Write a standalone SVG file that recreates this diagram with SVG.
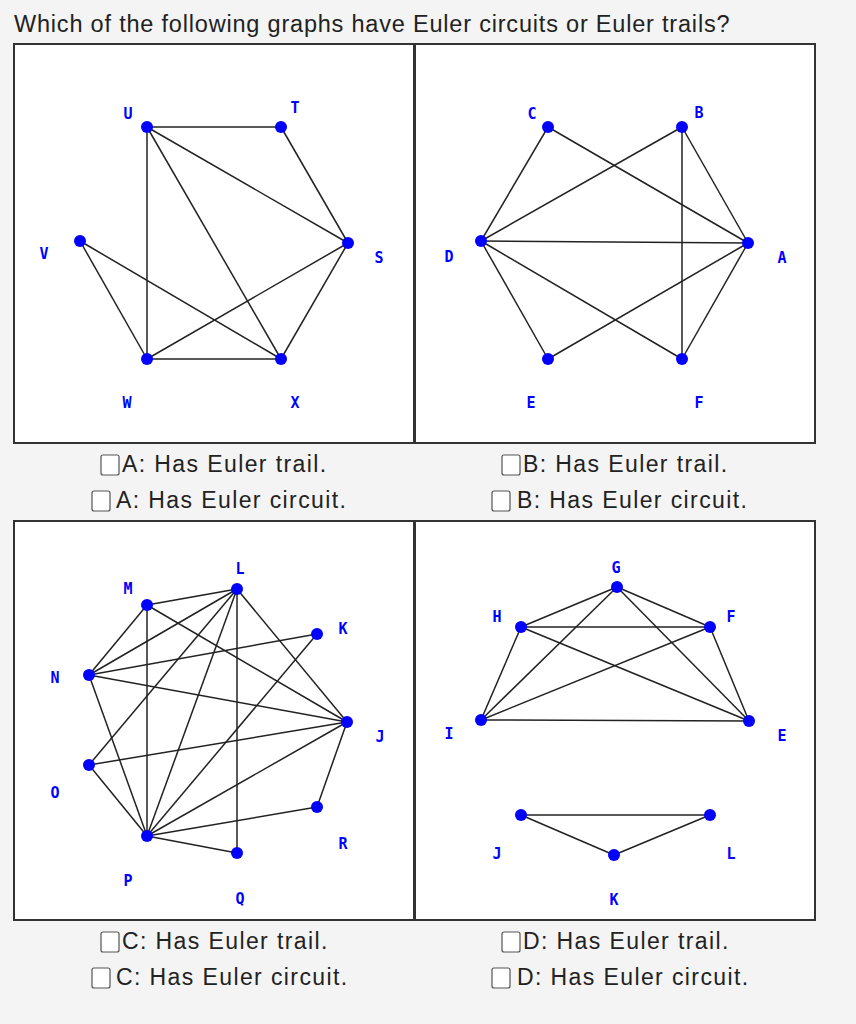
<svg xmlns="http://www.w3.org/2000/svg" width="856" height="1024" viewBox="0 0 856 1024">
<style>
.bg{fill:#f4f4f4}
.panel{fill:#fff;stroke:#333;stroke-width:2}
.e line{stroke:#222;stroke-width:1.5}
.n circle{fill:#0000ff}
.lb{font-family:"DejaVu Sans Mono",monospace;font-weight:bold;font-size:15px;fill:#0000ff;text-anchor:middle}
.q{font-family:"Liberation Sans",Arial,sans-serif;font-size:23.5px;fill:#222;letter-spacing:0.8px}
.opt{font-family:"Liberation Sans",Arial,sans-serif;font-size:23px;fill:#222;letter-spacing:1.4px}
.cb{fill:#fff;stroke:#555;stroke-width:1.2}
</style>
<rect class="bg" x="0" y="0" width="856" height="1024"/>
<text class="q" x="14" y="32">Which of the following graphs have Euler circuits or Euler trails?</text>
<rect class="panel" x="14" y="44" width="400" height="399"/>
<rect class="panel" x="415" y="44" width="400" height="399"/>
<rect class="panel" x="14" y="521" width="400" height="399"/>
<rect class="panel" x="415" y="521" width="400" height="399"/>
<g class="e" id="edges">
<line x1="147" y1="127" x2="281" y2="127"/><line x1="147" y1="127" x2="147" y2="359"/><line x1="147" y1="127" x2="281" y2="359"/><line x1="147" y1="127" x2="348" y2="243"/><line x1="281" y1="127" x2="348" y2="243"/><line x1="80" y1="241" x2="281" y2="359"/><line x1="80" y1="241" x2="147" y2="359"/><line x1="348" y1="243" x2="147" y2="359"/><line x1="348" y1="243" x2="281" y2="359"/><line x1="147" y1="359" x2="281" y2="359"/>
<line x1="548" y1="127" x2="481" y2="241"/><line x1="548" y1="127" x2="748" y2="243"/><line x1="682" y1="127" x2="481" y2="241"/><line x1="682" y1="127" x2="682" y2="359"/><line x1="682" y1="127" x2="748" y2="243"/><line x1="481" y1="241" x2="748" y2="243"/><line x1="481" y1="241" x2="548" y2="359"/><line x1="481" y1="241" x2="682" y2="359"/><line x1="548" y1="359" x2="748" y2="243"/><line x1="682" y1="359" x2="748" y2="243"/>
<line x1="147" y1="605" x2="237" y2="589"/><line x1="147" y1="605" x2="89" y2="675"/><line x1="147" y1="605" x2="147" y2="836"/><line x1="147" y1="605" x2="347" y2="722"/><line x1="237" y1="589" x2="89" y2="675"/><line x1="237" y1="589" x2="89" y2="765"/><line x1="237" y1="589" x2="147" y2="836"/><line x1="237" y1="589" x2="237" y2="853"/><line x1="237" y1="589" x2="347" y2="722"/><line x1="89" y1="675" x2="317" y2="634"/><line x1="89" y1="675" x2="347" y2="722"/><line x1="89" y1="675" x2="147" y2="836"/><line x1="317" y1="634" x2="147" y2="836"/><line x1="89" y1="765" x2="347" y2="722"/><line x1="89" y1="765" x2="147" y2="836"/><line x1="347" y1="722" x2="147" y2="836"/><line x1="347" y1="722" x2="317" y2="807"/><line x1="317" y1="807" x2="147" y2="836"/><line x1="237" y1="853" x2="147" y2="836"/>
<line x1="617" y1="587" x2="521" y2="627"/><line x1="617" y1="587" x2="710" y2="627"/><line x1="617" y1="587" x2="481" y2="720"/><line x1="617" y1="587" x2="749" y2="721"/><line x1="521" y1="627" x2="710" y2="627"/><line x1="521" y1="627" x2="481" y2="720"/><line x1="521" y1="627" x2="749" y2="721"/><line x1="710" y1="627" x2="481" y2="720"/><line x1="710" y1="627" x2="749" y2="721"/><line x1="481" y1="720" x2="749" y2="721"/><line x1="521" y1="815" x2="710" y2="815"/><line x1="521" y1="815" x2="614" y2="855"/><line x1="710" y1="815" x2="614" y2="855"/>
</g>
<g class="n">
<g id="A-U"><circle cx="147" cy="127" r="6"/><text class="lb" x="128" y="119">U</text></g>
<g id="A-T"><circle cx="281" cy="127" r="6"/><text class="lb" x="295" y="113">T</text></g>
<g id="A-S"><circle cx="348" cy="243" r="6"/><text class="lb" x="379" y="263">S</text></g>
<g id="A-V"><circle cx="80" cy="241" r="6"/><text class="lb" x="44" y="259">V</text></g>
<g id="A-W"><circle cx="147" cy="359" r="6"/><text class="lb" x="127" y="408">W</text></g>
<g id="A-X"><circle cx="281" cy="359" r="6"/><text class="lb" x="295" y="408">X</text></g>
<g id="B-C"><circle cx="548" cy="127" r="6"/><text class="lb" x="532" y="119">C</text></g>
<g id="B-B"><circle cx="682" cy="127" r="6"/><text class="lb" x="699" y="118">B</text></g>
<g id="B-D"><circle cx="481" cy="241" r="6"/><text class="lb" x="449" y="262">D</text></g>
<g id="B-A"><circle cx="748" cy="243" r="6"/><text class="lb" x="782" y="263">A</text></g>
<g id="B-E"><circle cx="548" cy="359" r="6"/><text class="lb" x="531" y="408">E</text></g>
<g id="B-F"><circle cx="682" cy="359" r="6"/><text class="lb" x="699" y="408">F</text></g>
<g id="C-L"><circle cx="237" cy="589" r="6"/><text class="lb" x="240" y="574">L</text></g>
<g id="C-M"><circle cx="147" cy="605" r="6"/><text class="lb" x="128" y="594">M</text></g>
<g id="C-K"><circle cx="317" cy="634" r="6"/><text class="lb" x="343" y="634">K</text></g>
<g id="C-N"><circle cx="89" cy="675" r="6"/><text class="lb" x="55" y="683">N</text></g>
<g id="C-J"><circle cx="347" cy="722" r="6"/><text class="lb" x="380" y="742">J</text></g>
<g id="C-O"><circle cx="89" cy="765" r="6"/><text class="lb" x="55" y="798">O</text></g>
<g id="C-R"><circle cx="317" cy="807" r="6"/><text class="lb" x="343" y="849">R</text></g>
<g id="C-P"><circle cx="147" cy="836" r="6"/><text class="lb" x="128" y="886">P</text></g>
<g id="C-Q"><circle cx="237" cy="853" r="6"/><text class="lb" x="240" y="904">Q</text></g>
<g id="D-G"><circle cx="617" cy="587" r="6"/><text class="lb" x="616" y="573">G</text></g>
<g id="D-H"><circle cx="521" cy="627" r="6"/><text class="lb" x="497" y="622">H</text></g>
<g id="D-F"><circle cx="710" cy="627" r="6"/><text class="lb" x="731" y="622">F</text></g>
<g id="D-I"><circle cx="481" cy="720" r="6"/><text class="lb" x="449" y="739">I</text></g>
<g id="D-E"><circle cx="749" cy="721" r="6"/><text class="lb" x="782" y="741">E</text></g>
<g id="D-J"><circle cx="521" cy="815" r="6"/><text class="lb" x="497" y="859">J</text></g>
<g id="D-L"><circle cx="710" cy="815" r="6"/><text class="lb" x="731" y="859">L</text></g>
<g id="D-K"><circle cx="614" cy="855" r="6"/><text class="lb" x="614" y="905">K</text></g>
</g>
<g id="options">
<rect class="cb" x="101" y="455" width="18" height="20" rx="2"/><text class="opt" x="122" y="472">A: Has Euler trail.</text>
<rect class="cb" x="92" y="491" width="18" height="20" rx="2"/><text class="opt" x="116" y="508">A: Has Euler circuit.</text>
<rect class="cb" x="502" y="455" width="18" height="20" rx="2"/><text class="opt" x="523" y="472">B: Has Euler trail.</text>
<rect class="cb" x="492" y="491" width="18" height="20" rx="2"/><text class="opt" x="517" y="508">B: Has Euler circuit.</text>
<rect class="cb" x="101" y="932" width="18" height="20" rx="2"/><text class="opt" x="122" y="949">C: Has Euler trail.</text>
<rect class="cb" x="92" y="968" width="18" height="20" rx="2"/><text class="opt" x="116" y="985">C: Has Euler circuit.</text>
<rect class="cb" x="502" y="932" width="18" height="20" rx="2"/><text class="opt" x="523" y="949">D: Has Euler trail.</text>
<rect class="cb" x="492" y="968" width="18" height="20" rx="2"/><text class="opt" x="517" y="985">D: Has Euler circuit.</text>
</g>
</svg>
